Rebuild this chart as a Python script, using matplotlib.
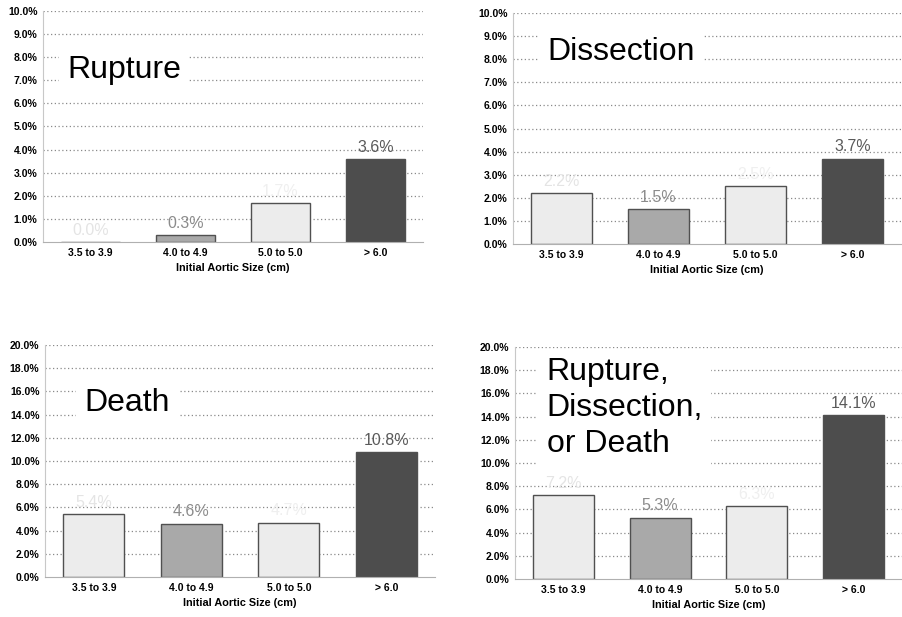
import matplotlib.pyplot as plt

plt.rcParams['font.family'] = ['Liberation Sans', 'DejaVu Sans']

sizes = ["3.5 to 3.9", "4.0 to 4.9", "5.0 to 5.0", "> 6.0"]
rupture = [0.0, 0.3, 1.7, 3.6]
dissection = [2.2, 1.5, 2.5, 3.7]
death = [5.4, 4.6, 4.7, 10.8]
combined = [7.2, 5.3, 6.3, 14.1]

bar_colors = ["#ececec", "#a9a9a9", "#ececec", "#4d4d4d"]
label_colors = ["#e4e4e4", "#8c8c8c", "#efefef", "#5a5a5a"]

# (left, bottom, width, height) in figure fractions; title position in axes fractions
panels = [
    ("Rupture", rupture, 10, 1, [0.0477, 0.6078, 0.4213, 0.3744], (0.063, 0.745)),
    ("Dissection", dissection, 10, 1, [0.5687, 0.6045, 0.4302, 0.3744], (0.088, 0.83)),
    ("Death", death, 20, 2, [0.0499, 0.0648, 0.4324, 0.3760], (0.10, 0.75)),
    ("Rupture,\nDissection,\nor Death", combined, 20, 2, [0.5710, 0.0616, 0.4290, 0.3760], (0.082, 0.737)),
]

fig = plt.figure(figsize=(9.02, 6.17), dpi=100)

for title, values, ymax, step, rect, title_pos in panels:
    ax = fig.add_axes(rect)
    x = range(len(sizes))
    ticks = [i * step for i in range(int(ymax / step) + 1)]
    for t in ticks[1:]:
        ax.axhline(t, color="#8a8a8a", lw=0.9, ls=(0, (1, 2)), zorder=0)
    ax.bar(x, values, 0.63, color=bar_colors, edgecolor="#505050", linewidth=1.0, zorder=2)
    for i, v in enumerate(values):
        ax.annotate(f"{v:.1f}%", (i, v), xytext=(0, 3), textcoords="offset points",
                    ha="center", va="bottom", fontsize=11.5, color=label_colors[i], zorder=3)
    ax.text(title_pos[0], title_pos[1], title, transform=ax.transAxes, fontsize=23,
            ha="left", va="center", linespacing=1.25, zorder=4,
            bbox=dict(facecolor="white", edgecolor="none", pad=6))
    ax.set_xlim(-0.5, 3.5)
    ax.set_ylim(0, ymax)
    ax.set_yticks(ticks)
    ax.set_yticklabels([f"{t:.1f}%" for t in ticks], fontsize=7.5, fontweight="bold")
    ax.set_xticks(list(x))
    ax.set_xticklabels(sizes, fontsize=7.5, fontweight="bold")
    ax.tick_params(axis="both", length=0, pad=4)
    ax.set_xlabel("Initial Aortic Size (cm)", fontsize=7.8, fontweight="bold", labelpad=4)
    for side in ("top", "right"):
        ax.spines[side].set_visible(False)
    ax.spines["left"].set_color("#c8c8c8")
    ax.spines["bottom"].set_color("#b0b0b0")
    ax.spines["left"].set_linewidth(0.8)
    ax.spines["bottom"].set_linewidth(0.8)

fig.savefig("out.png", dpi=100, facecolor="white")
